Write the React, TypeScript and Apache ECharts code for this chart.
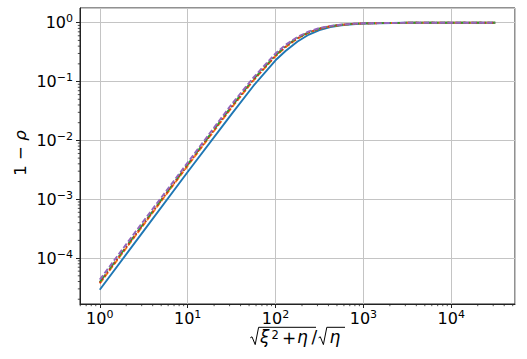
import React, { useEffect, useRef } from "react";
import * as echarts from "echarts";

const xValues = [1, 3.16, 10, 31.6, 56.2, 100, 130, 178, 240, 316, 420, 562, 750, 1000, 3162, 10000, 31623];
const seriesBlue = [2.9e-5, 2.9e-4, 2.9e-3, 0.028, 0.085, 0.23, 0.33, 0.48, 0.63, 0.75, 0.84, 0.9, 0.94, 0.97, 0.997, 1.0, 1.0];
const seriesOrange = [3.7e-5, 3.7e-4, 3.7e-3, 0.036, 0.105, 0.27, 0.385, 0.54, 0.68, 0.79, 0.87, 0.92, 0.955, 0.974, 0.997, 1.0, 1.0];
const seriesGreen = [3.9e-5, 3.9e-4, 3.9e-3, 0.038, 0.11, 0.28, 0.4, 0.555, 0.69, 0.795, 0.874, 0.925, 0.957, 0.975, 0.9975, 1.0, 1.0];
const seriesRed = [3.8e-5, 3.8e-4, 3.8e-3, 0.037, 0.107, 0.275, 0.39, 0.545, 0.685, 0.79, 0.87, 0.922, 0.955, 0.974, 0.997, 1.0, 1.0];
const seriesPurple = [4.3e-5, 4.3e-4, 4.2e-3, 0.041, 0.118, 0.3, 0.42, 0.575, 0.71, 0.81, 0.882, 0.93, 0.96, 0.977, 0.998, 1.0, 1.0];

const xMin = Math.pow(10, -0.225);
const xMax = Math.pow(10, 4.725);
const yMin = Math.pow(10, -4.78);
const yMax = Math.pow(10, 0.25);

const minorMultipliers = [2, 3, 4, 5, 6, 7, 8, 9];
const xDecades = [0.1, 1, 10, 100, 1000, 10000];
const yDecades = [1e-5, 1e-4, 1e-3, 1e-2, 1e-1, 1];

const FONT = "DejaVu Sans";

function minorList(decades: number[], lo: number, hi: number) {
  const out: number[] = [];
  decades.forEach((d) => minorMultipliers.forEach((m) => {
    const v = d * m;
    if (v > lo && v < hi) out.push(v);
  }));
  return out;
}

const supMinus = (e: number) => (e < 0 ? "\u2212" : "") + Math.abs(e);

export default function App() {
  const ref = useRef<HTMLDivElement>(null);
  useEffect(() => {
    if (!ref.current) return;
    const chart = echarts.init(ref.current, null, { renderer: "svg" });
    const pair = (ys: number[]) => xValues.map((x, i) => [x, ys[i]]);
    const labelFmt = (v: number) => {
      const e = Math.round(Math.log10(v));
      return `{b|10}{s|${supMinus(e)}}`;
    };
    const rich = {
      b: { fontSize: 16, fontFamily: FONT, color: "#000", lineHeight: 19 },
      s: { fontSize: 11, fontFamily: FONT, color: "#000", verticalAlign: "top", lineHeight: 11 },
    };
    const xMinor = minorList(xDecades, xMin, xMax);
    const yMinor = minorList(yDecades, yMin, yMax);
    const lineSeries = (name: string, ys: number[], color: string, type: any) => ({
      name,
      type: "line",
      data: pair(ys),
      showSymbol: false,
      symbol: "none",
      lineStyle: { color, width: 1.9, type },
      z: 3,
    });
    const glyph = (text: string, x: number, y: number, size: number, italic = false) => ({
      type: "text",
      x,
      y,
      style: {
        text,
        fontSize: size,
        fontFamily: FONT,
        fontStyle: italic ? "italic" : "normal",
        fill: "#000",
        align: "left",
        verticalAlign: "middle",
      },
    });
    chart.setOption({
      animation: false,
      grid: { left: 80, right: 12, top: 8, bottom: 55, show: true, borderColor: "#222", borderWidth: 1, backgroundColor: "transparent" },
      xAxis: {
        type: "log",
        logBase: 10,
        min: xMin,
        max: xMax,
        axisLine: { show: true, lineStyle: { color: "#222", width: 1 } },
        axisTick: { show: true, length: 4, lineStyle: { color: "#222" } },
        splitLine: { show: true, lineStyle: { color: "#c4c4c4", width: 1 } },
        axisLabel: { formatter: labelFmt, rich, margin: 5, showMinLabel: false, showMaxLabel: false },
      },
      yAxis: {
        type: "log",
        logBase: 10,
        min: yMin,
        max: yMax,
        axisLine: { show: true, lineStyle: { color: "#222", width: 1 } },
        axisTick: { show: true, length: 4, lineStyle: { color: "#222" } },
        splitLine: { show: true, lineStyle: { color: "#c4c4c4", width: 1 } },
        axisLabel: { formatter: labelFmt, rich, margin: 7, showMinLabel: false, showMaxLabel: false },
      },
      graphic: [
        {
          type: "text",
          x: 20,
          y: 153,
          rotation: Math.PI / 2,
          style: {
            text: "1 \u2212 {i|\u03c1}",
            fontSize: 16.5,
            fontFamily: FONT,
            fill: "#000",
            align: "center",
            verticalAlign: "middle",
            rich: { i: { fontSize: 16.5, fontFamily: FONT, fontStyle: "italic", fill: "#000" } },
          },
        },
        {
          type: "polyline",
          shape: { points: [[250.3, 337.8], [252, 336.8], [255.2, 344.6], [258.6, 327.3], [316, 327.3]] },
          style: { stroke: "#000", lineWidth: 1, fill: "none" },
        },
        {
          type: "polyline",
          shape: { points: [[318.6, 337.8], [320.3, 336.8], [323.4, 344.6], [326.8, 327.3], [345, 327.3]] },
          style: { stroke: "#000", lineWidth: 1, fill: "none" },
        },
        glyph("\u03be", 260, 337, 17, true),
        glyph("2", 271.5, 334.5, 11.5),
        glyph("+", 282, 337.5, 17),
        glyph("\u03b7", 297, 337, 17, true),
        glyph("/", 311.5, 337, 17),
        glyph("\u03b7", 329.5, 337, 17, true),
      ],
      series: [
        lineSeries("a", seriesBlue, "#1f77b4", "solid"),
        lineSeries("b", seriesOrange, "#ff7f0e", [5.5, 2.4]),
        lineSeries("c", seriesGreen, "#2ca02c", [9.6, 2.4, 1.5, 2.4]),
        lineSeries("d", seriesRed, "#d62728", [1.5, 2.5]),
        lineSeries("e", seriesPurple, "#9467bd", [5.5, 2.4]),
        {
          type: "custom",
          coordinateSystem: "cartesian2d",
          clip: false,
          silent: true,
          data: xMinor.map((v) => [v, yMin]),
          renderItem: (params: any, api: any) => {
            const p = api.coord([api.value(0), api.value(1)]);
            return { type: "line", shape: { x1: p[0], y1: p[1], x2: p[0], y2: p[1] + 2.2 }, style: { stroke: "#222", lineWidth: 0.8 } };
          },
        },
        {
          type: "custom",
          coordinateSystem: "cartesian2d",
          clip: false,
          silent: true,
          data: yMinor.map((v) => [xMin, v]),
          renderItem: (params: any, api: any) => {
            const p = api.coord([api.value(0), api.value(1)]);
            return { type: "line", shape: { x1: p[0], y1: p[1], x2: p[0] - 2.2, y2: p[1] }, style: { stroke: "#222", lineWidth: 0.8 } };
          },
        },
      ],
    });
    return () => chart.dispose();
  }, []);
  return <div ref={ref} style={{ position: "fixed", left: 0, top: 0, width: 527, height: 359, background: "#fff" }} />;
}
